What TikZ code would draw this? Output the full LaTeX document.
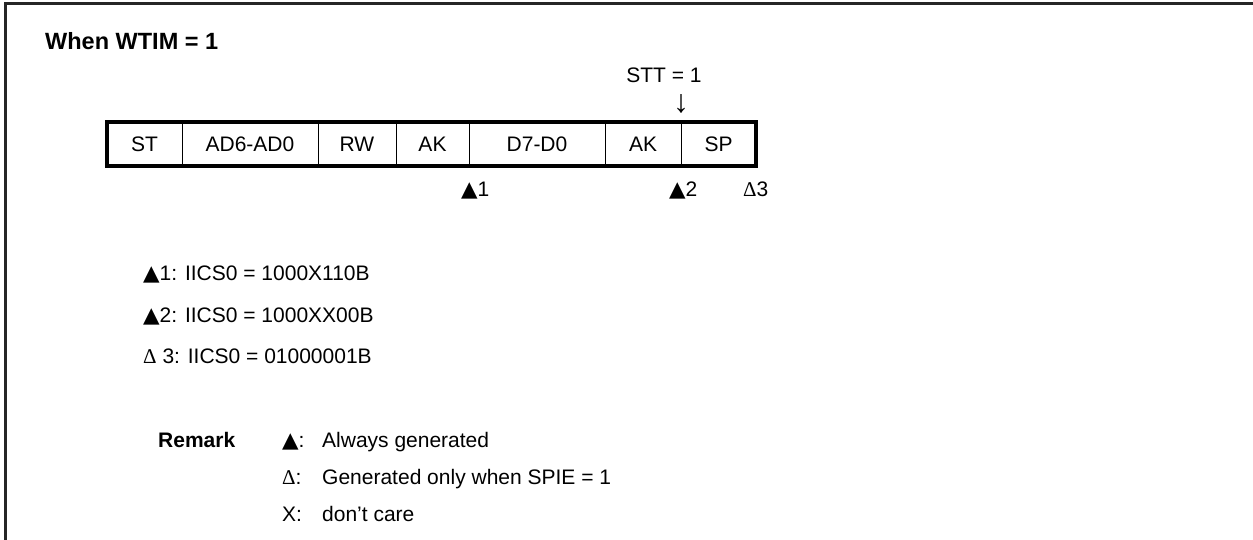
\documentclass[tikz,border=0pt]{standalone}
\usepackage{fontspec}
\setmainfont{Liberation Sans}
\newfontfamily\symfont{DejaVu Sans}
\newfontfamily\serfont{Liberation Serif}
\newcommand{\btri}{{\symfont\fontsize{21.5}{22}\selectfont ▲}}
\newcommand{\wtri}{{\serfont Δ}}
\tikzset{
  txt/.style={inner sep=0pt, anchor=base west, font=\fontsize{21}{25}\selectfont},
  cell/.style={minimum height=44pt, inner sep=0pt, text height=15pt, text depth=0pt, font=\fontsize{21}{25}\selectfont, anchor=center},
  frame/.style={line width=3pt, black!85},
  divider/.style={line width=1.3pt},
  outerbox/.style={line width=3.5pt},
}
\begin{document}
\begin{tikzpicture}[x=1pt,y=-1pt]
\useasboundingbox (0,0) rectangle (1253,540);
% frame
\coordinate (fc) at (5,4);
\coordinate (fr) at (1253,4);
\coordinate (fb) at (5,540);
\draw[frame] (fr) -- (fc) -- (fb);
% title
\node[txt, font=\bfseries\fontsize{23.5}{28}\selectfont] (title) at (45,50) {When WTIM = 1};
% table cells
\node[cell, minimum width=75pt]  (st) at (144.5,144) {ST};
\node[cell, minimum width=136pt] (ad) at (250,144) {AD6-AD0};
\node[cell, minimum width=78pt]  (rw) at (357,144) {RW};
\node[cell, minimum width=73pt]  (ak1) at (432.5,144) {AK};
\node[cell, minimum width=136pt] (dd) at (537,144) {D7-D0};
\node[cell, minimum width=76pt]  (ak2) at (643,144) {AK};
\node[cell, minimum width=75pt]  (sp) at (718.5,144) {SP};
\foreach \n in {st,ad,rw,ak1,dd,ak2}{
  \draw[divider] (\n.north east) -- (\n.south east);
}
\draw[outerbox] (st.north west) rectangle (sp.south east);
% STT marker
\node[txt, anchor=base] (stt) at (664,83) {STT = 1};
\node[inner sep=0pt, anchor=center, font=\serfont\fontsize{32}{36}\selectfont] (arr) at (681,104) {↓};
% markers under table
\node[txt] (m1) at (461,197) {\btri1};
\node[txt] (m2) at (669,197) {\btri2};
\node[txt] (m3) at (743,197) {\wtri3};
% legend
\node[txt] (l1) at (143,280) {\btri1: IICS0 = 1000X110B};
\node[txt] (l2) at (143,322) {\btri2: IICS0 = 1000XX00B};
\node[txt] (l3) at (143,363) {\wtri\ 3: IICS0 = 01000001B};
% remark
\node[txt, font=\bfseries\fontsize{21}{25}\selectfont] (rem) at (158,447) {Remark};
\node[txt] (s1) at (282,447) {\btri:};
\node[txt] (s2) at (282,484) {\wtri:};
\node[txt] (s3) at (282,521) {X:};
\node[txt] (t1) at (322,447) {Always generated};
\node[txt] (t2) at (322,484) {Generated only when SPIE = 1};
\node[txt] (t3) at (322,521) {don’t care};
\end{tikzpicture}
\end{document}
